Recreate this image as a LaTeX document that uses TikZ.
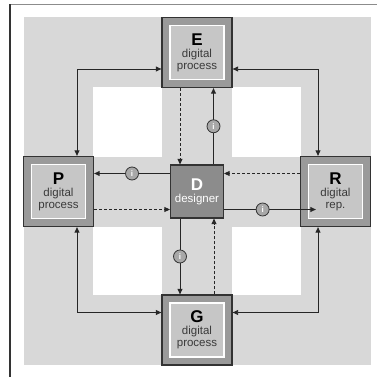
\documentclass[tikz,border=0pt]{standalone}
\usepackage{fontspec}
\setmainfont{Liberation Sans}
\usetikzlibrary{arrows.meta}
\definecolor{bggray}{HTML}{D8D8D8}
\definecolor{framegray}{HTML}{9A9A9A}
\definecolor{panelgray}{HTML}{C6C6C6}
\definecolor{dgray}{HTML}{8C8C8C}
\definecolor{edge}{HTML}{333333}
\definecolor{txtgray}{HTML}{3A3A3A}
\definecolor{circgray}{HTML}{A8A8A8}
\tikzset{
  procbox/.style={draw=edge, line width=1.3pt, fill=framegray, minimum size=70pt, inner sep=0pt},
  panel/.style={draw=white, line width=1.6pt, fill=panelgray, minimum size=54pt, inner sep=0pt, align=center},
  desbox/.style={draw=edge, line width=1.2pt, fill=dgray, minimum size=53pt, inner sep=0pt, align=center, text=white},
  conn/.style={line width=0.9pt, draw=black!85, -{Triangle[length=5.5pt,width=5pt]}},
  biconn/.style={conn, {Triangle[length=5.5pt,width=5pt]}-{Triangle[length=5.5pt,width=5pt]}},
  dconn/.style={conn, dash pattern=on 3pt off 2pt},
  infoc/.style={circle, draw=edge, line width=0.8pt, fill=circgray, minimum size=13pt, inner sep=0pt, font=\fontsize{8}{8}\selectfont\bfseries, text=white},
}
\newcommand{\boxtext}[3]{{\fontsize{17}{19}\selectfont\bfseries #1}\\{\fontsize{11.5}{13}\selectfont\color{txtgray}#2}\\{\fontsize{11.5}{13}\selectfont\color{txtgray}#3}}
\begin{document}
\begin{tikzpicture}[x=1pt,y=-1pt]
\useasboundingbox (0,0) rectangle (377,377);
\fill[white] (0,0) rectangle (377,377);
% outer frame
\draw[line width=1.5pt, draw=gray!90] (10,4.5) -- (377,4.5);
\draw[line width=1.2pt, draw=edge] (10,4.5) -- (10,377);
% gray background
\fill[bggray] (24,17) rectangle (370.5,365);
% white squares
\fill[white] (93,87) rectangle (162,157);
\fill[white] (232,87) rectangle (301,157);
\fill[white] (93,227) rectangle (162,295);
\fill[white] (232,227) rectangle (301,295);
% boxes
\node[procbox] (E) at (197,52.5) {};
\node[panel] (Ei) at (E.center) {\boxtext{E}{digital}{process}};
\node[procbox] (P) at (58.5,191.5) {};
\node[panel] (Pi) at (P.center) {\boxtext{P}{digital}{process}};
\node[procbox] (R) at (335.5,191.5) {};
\node[panel] (Ri) at (R.center) {\boxtext{R}{digital}{rep.}};
\node[procbox] (G) at (197,330) {};
\node[panel] (Gi) at (G.center) {\boxtext{G}{digital}{process}};
\node[desbox] (D) at (197,191.5) {{\fontsize{17}{19}\selectfont\bfseries D}\\{\fontsize{11.5}{13}\selectfont designer}};
% outer loop connectors
\draw[biconn] ([yshift=-16.5pt]E.west) -| ([xshift=18.5pt]P.north);
\draw[biconn] ([yshift=-16.5pt]E.east) -| ([xshift=-17.5pt]R.north);
\draw[biconn] ([xshift=18.5pt]P.south) |- ([yshift=17.5pt]G.west);
\draw[biconn] ([xshift=-17.5pt]R.south) |- ([yshift=17.5pt]G.east);
% E <-> D
\draw[dconn] ([xshift=-17pt]E.south) -- ([xshift=-17pt]D.north);
\draw[conn] ([xshift=16.5pt]D.north) -- node[infoc]{i} ([xshift=16.5pt]E.south);
% P <-> D
\draw[conn] ([yshift=18pt]D.west) -- node[infoc]{i} ([yshift=18pt]P.east);
\draw[dconn] ([yshift=-18pt]P.east) -- ([yshift=-18pt]D.west);
% R <-> D
\draw[dconn] ([yshift=18pt]R.west) -- ([yshift=18pt]D.east);
\draw[conn] ([yshift=-18pt]D.east) -- node[infoc, pos=0.42]{i} ([xshift=16pt,yshift=-18pt]R.west);
% G <-> D
\draw[conn] ([xshift=-17pt]D.south) -- node[infoc]{i} ([xshift=-17pt]G.north);
\draw[dconn] ([xshift=17pt]G.north) -- ([xshift=17pt]D.south);
\end{tikzpicture}
\end{document}
